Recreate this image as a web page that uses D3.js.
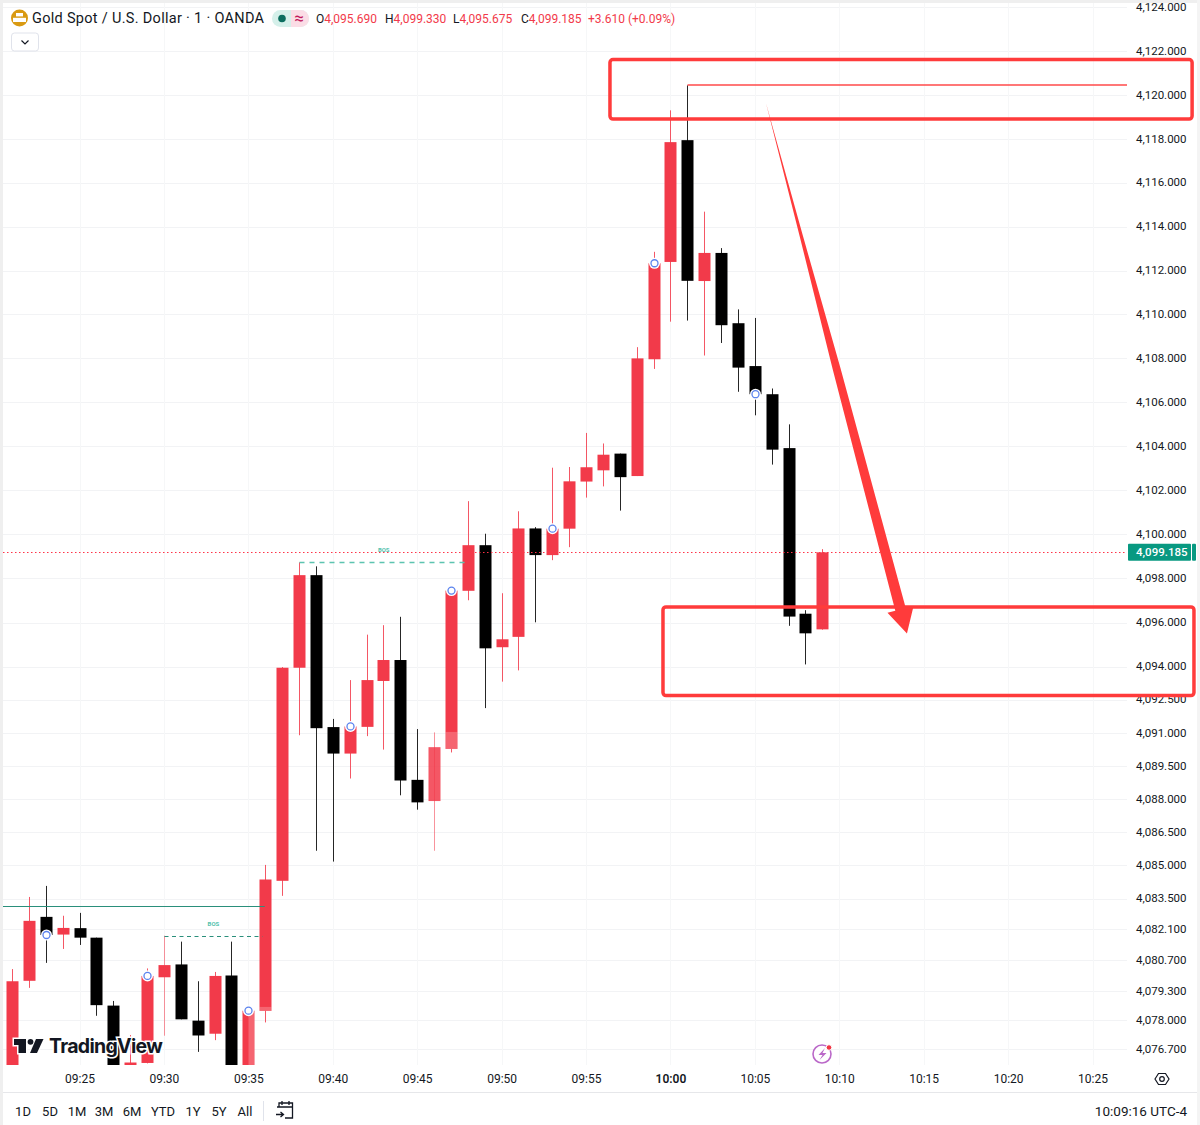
<!DOCTYPE html>
<html>
<head>
<meta charset="utf-8">
<script src="https://cdn.jsdelivr.net/npm/d3@7"></script>
<style>
  html, body { margin: 0; padding: 0; background: #fff; }
  svg { display: block; }
  text { font-family: Roboto, sans-serif; }
</style>
</head>
<body>
<svg id="chart" width="1200" height="1125"></svg>
<script>
const width = 1200
const height = 1125
const chartLeft = 3
const chartTop = 3
const chartRight = 1127
const chartBottom = 1065
const red = "#f23a4a"
const black = "#000000"
const teal = "#089981"
const markup = "#ff3b3b"
const ink = "#131722"

const times = ["09:21", "09:22", "09:23", "09:24", "09:25", "09:26", "09:27", "09:28", "09:29", "09:30",
    "09:31", "09:32", "09:33", "09:34", "09:35", "09:36", "09:37", "09:38", "09:39", "09:40",
    "09:41", "09:42", "09:43", "09:44", "09:45", "09:46", "09:47", "09:48", "09:49", "09:50",
    "09:51", "09:52", "09:53", "09:54", "09:55", "09:56", "09:57", "09:58", "09:59", "10:00",
    "10:01", "10:02", "10:03", "10:04", "10:05", "10:06", "10:07", "10:08", "10:09"]
const opens = [4074.83, 4079.78, 4082.67, 4081.87, 4082.16, 4081.73, 4078.66, 4075.74, 4076.07, 4079.94,
    4080.52, 4077.98, 4077.39, 4080.02, 4075.05, 4078.42, 4084.30, 4093.95, 4098.15, 4091.26,
    4090.06, 4091.27, 4093.35, 4094.30, 4088.87, 4087.91, 4090.27, 4097.44, 4099.51, 4094.88,
    4095.35, 4100.27, 4099.06, 4100.26, 4102.40, 4102.91, 4103.67, 4102.65, 4107.96, 4112.39,
    4117.94, 4111.52, 4112.80, 4109.60, 4107.65, 4106.37, 4103.92, 4096.40, 4095.69]
const highs = [4080.31, 4083.57, 4084.07, 4082.72, 4082.85, 4081.73, 4078.87, 4077.33, 4080.34, 4081.82,
    4081.55, 4079.76, 4080.18, 4081.55, 4078.60, 4085.02, 4093.98, 4098.73, 4098.55, 4091.63,
    4093.39, 4095.45, 4095.88, 4096.26, 4091.17, 4091.02, 4097.59, 4101.51, 4100.03, 4097.33,
    4101.05, 4100.33, 4103.03, 4103.06, 4104.61, 4104.13, 4103.67, 4108.51, 4112.85, 4119.30,
    4120.44, 4114.68, 4113.02, 4110.23, 4109.84, 4106.63, 4105.00, 4096.56, 4099.33]
const lows = [4074.60, 4079.46, 4080.59, 4081.22, 4081.40, 4078.20, 4075.28, 4075.51, 4076.05, 4077.30,
    4078.04, 4076.57, 4077.10, 4074.83, 4074.80, 4077.90, 4083.62, 4090.89, 4085.66, 4085.17,
    4088.93, 4090.85, 4090.24, 4088.17, 4087.52, 4085.66, 4090.11, 4097.01, 4092.12, 4093.32,
    4093.83, 4096.01, 4098.83, 4099.42, 4101.67, 4102.18, 4101.08, 4102.65, 4107.52, 4109.67,
    4109.72, 4108.13, 4108.70, 4106.48, 4105.41, 4103.17, 4095.85, 4094.10, 4095.675]
const closes = [4079.76, 4082.49, 4081.85, 4082.17, 4081.73, 4078.68, 4075.51, 4076.09, 4080.00, 4080.49,
    4078.04, 4077.31, 4080.00, 4075.05, 4078.43, 4084.36, 4093.95, 4098.15, 4091.21, 4090.06,
    4091.29, 4093.39, 4094.30, 4088.84, 4087.85, 4090.35, 4097.45, 4099.51, 4094.83, 4095.24,
    4100.27, 4099.06, 4100.26, 4102.41, 4103.05, 4103.62, 4102.60, 4108.00, 4112.33, 4117.85,
    4111.53, 4112.80, 4109.51, 4107.58, 4106.37, 4103.85, 4096.27, 4095.51, 4099.185]

const markerTimes = ["09:23", "09:29", "09:35", "09:41", "09:47", "09:53", "09:59", "10:05"]
const fadeTimes = ["09:36", "09:47"]
const fadeTops = [4078.60, 4091.04]

const priceTicks = [4124, 4122, 4120, 4118, 4116, 4114, 4112, 4110, 4108, 4106, 4104, 4102, 4100, 4098, 4096, 4094,
    4092.5, 4091, 4089.5, 4088, 4086.5, 4085, 4083.5, 4082.1, 4080.7, 4079.3, 4078, 4076.7]
const timeTicks = ["09:25", "09:30", "09:35", "09:40", "09:45", "09:50", "09:55", "10:00", "10:05", "10:10", "10:15", "10:20", "10:25"]
const rangeLabels = ["1D", "5D", "1M", "3M", "6M", "YTD", "1Y", "5Y", "All"]
const rangeCenters = [23, 50, 77, 104, 132, 163, 193, 219, 245]

// drawn on top of the chart, in minutes since midnight and prices
const boxStarts = [596.39, 599.53]
const boxEnds = [630.87, 630.98]
const boxTops = [4121.62, 4096.71]
const boxBottoms = [4118.90, 4092.69]
const arrowTail = [605.63, 4119.63]
const arrowTip = [613.98, 4095.50]
const bosStarts = ["09:30", "09:38"]
const bosEnds = [575.8, 587.98]
const bosPrices = [4081.82, 4098.75]
const bosColors = ["#2a8f7b", "#5cc4b0"]
const bosWidths = [1, 1.6]
const bosDashes = ["4,3.5", "5,5"]
const levelPrice = 4083.18

const toMinutes = (s) => {
    const [h, m] = s.split(":").map(Number)
    return h * 60 + m
}

const candles = times.map((t, i) => ({ t: t, open: opens[i], high: highs[i], low: lows[i], close: closes[i] }))
const byTime = new Map(candles.map(d => [d.t, d]))
const lastClose = closes[closes.length - 1]

const xScale = d3.scaleLinear()
    .domain([toMinutes("09:25"), toMinutes("10:25")])
    .range([80, 1093])

const yScale = d3.scaleLog()
    .domain([4120, 4076.7])
    .range([95, 1049])

const xPos = (t) => Math.floor(xScale(toMinutes(t))) + 0.5

const svg = d3.select("#chart")
    .attr("viewBox", `0 0 ${width} ${height}`)

svg.append("rect").attr("width", width).attr("height", height).attr("fill", "#fff")
svg.append("rect").attr("width", width).attr("height", chartTop).attr("fill", "#efefef")
svg.append("rect").attr("width", chartLeft).attr("height", height).attr("fill", "#efefef")
svg.append("rect").attr("x", 1197).attr("width", 3).attr("height", height).attr("fill", "#f4f4f4")

svg.append("defs").append("clipPath")
    .attr("id", "plot")
    .append("rect")
    .attr("x", chartLeft)
    .attr("y", chartTop)
    .attr("width", chartRight - chartLeft)
    .attr("height", chartBottom - chartTop)

// grid
const grid = svg.append("g").attr("clip-path", "url(#plot)")

grid.selectAll("line.h")
    .data(priceTicks)
    .enter()
    .append("line")
    .attr("class", "h")
    .attr("x1", chartLeft)
    .attr("x2", chartRight)
    .attr("y1", d => Math.round(yScale(d)) + 0.5)
    .attr("y2", d => Math.round(yScale(d)) + 0.5)
    .attr("stroke", "#f2f3f5")

grid.selectAll("line.v")
    .data(timeTicks)
    .enter()
    .append("line")
    .attr("class", "v")
    .attr("x1", d => xPos(d))
    .attr("x2", d => xPos(d))
    .attr("y1", chartTop)
    .attr("y2", chartBottom)
    .attr("stroke", "#f6f7f8")

// axes
const yAxis = d3.axisRight(yScale)
    .tickValues(priceTicks)
    .tickSize(0)
    .tickPadding(0)
    .tickFormat(d3.format(",.3f"))

svg.append("g")
    .attr("id", "y-axis")
    .attr("transform", "translate(1136, -0.5)")
    .call(yAxis)
    .call(g => g.select(".domain").remove())
    .selectAll("text")
    .attr("fill", ink)
    .style("font-size", "11.5px")
    .style("font-family", "Roboto, sans-serif")

const xAxis = d3.axisBottom(xScale)
    .tickValues(timeTicks.map(toMinutes))
    .tickSize(0)
    .tickPadding(0)
    .tickFormat(d => timeTicks.find(t => toMinutes(t) === d))

svg.append("g")
    .attr("id", "x-axis")
    .attr("transform", "translate(-0.5, 1074)")
    .call(xAxis)
    .call(g => g.select(".domain").remove())
    .selectAll("text")
    .attr("fill", ink)
    .style("font-size", "12px")
    .style("font-family", "Roboto, sans-serif")
    .style("font-weight", d => d === toMinutes("10:00") ? "600" : "400")

svg.append("line")
    .attr("x1", chartLeft).attr("x2", 1197)
    .attr("y1", 1092.5).attr("y2", 1092.5)
    .attr("stroke", "#e6e7ea")

// candles
const plot = svg.append("g").attr("clip-path", "url(#plot)")

plot.selectAll("line.wick")
    .data(candles)
    .enter()
    .append("line")
    .attr("class", "wick")
    .attr("x1", d => xPos(d.t))
    .attr("x2", d => xPos(d.t))
    .attr("y1", d => yScale(d.high))
    .attr("y2", d => yScale(d.low))
    .attr("stroke", d => d.close >= d.open ? red : black)
    .attr("stroke-opacity", d => d.t === "09:46" || d.t === "09:30" ? 0.55 : 0.85)

plot.selectAll("rect.body")
    .data(candles)
    .enter()
    .append("rect")
    .attr("class", "body")
    .attr("x", d => xPos(d.t) - 6)
    .attr("width", 12)
    .attr("y", d => yScale(Math.max(d.open, d.close)))
    .attr("height", d => Math.abs(yScale(d.open) - yScale(d.close)))
    .attr("fill", d => d.close >= d.open ? red : black)
    .attr("fill-opacity", d => d.t === "09:46" ? 0.85 : 1)

// paler patches on a few bodies
plot.selectAll("rect.fade")
    .data(fadeTimes)
    .enter()
    .append("rect")
    .attr("class", "fade")
    .attr("x", d => xPos(d) - 6)
    .attr("width", 12)
    .attr("y", (d, i) => yScale(fadeTops[i]))
    .attr("height", (d, i) => yScale(byTime.get(d).open) - yScale(fadeTops[i]))
    .attr("fill", "#fff")
    .attr("fill-opacity", 0.22)

plot.append("rect")
    .attr("x", xPos("09:35"))
    .attr("width", 6)
    .attr("y", yScale(byTime.get("09:35").close))
    .attr("height", chartBottom - yScale(byTime.get("09:35").close))
    .attr("fill", "#fff")
    .attr("fill-opacity", 0.22)

// structure lines
plot.append("line")
    .attr("x1", chartLeft)
    .attr("x2", xScale(toMinutes("09:36")) - 1)
    .attr("y1", Math.round(yScale(levelPrice)) + 0.5)
    .attr("y2", Math.round(yScale(levelPrice)) + 0.5)
    .attr("stroke", "#2a8f7b")

plot.selectAll("line.bos")
    .data(bosPrices)
    .enter()
    .append("line")
    .attr("class", "bos")
    .attr("x1", (d, i) => xPos(bosStarts[i]))
    .attr("x2", (d, i) => xScale(bosEnds[i]))
    .attr("y1", d => Math.round(yScale(d)) + 0.5)
    .attr("y2", d => Math.round(yScale(d)) + 0.5)
    .attr("stroke", (d, i) => bosColors[i])
    .attr("stroke-width", (d, i) => bosWidths[i])
    .attr("stroke-dasharray", (d, i) => bosDashes[i])

plot.selectAll("text.bos")
    .data(bosPrices)
    .enter()
    .append("text")
    .attr("class", "bos")
    .attr("x", (d, i) => (xPos(bosStarts[i]) + xScale(bosEnds[i])) / 2)
    .attr("y", d => yScale(d) - 10)
    .attr("text-anchor", "middle")
    .attr("fill", "#56c2ae")
    .style("font-size", "6px")
    .style("font-weight", "700")
    .text("BOS")

// last price
plot.append("line")
    .attr("x1", chartLeft)
    .attr("x2", chartRight)
    .attr("y1", Math.round(yScale(lastClose)) + 0.5)
    .attr("y2", Math.round(yScale(lastClose)) + 0.5)
    .attr("stroke", "#ff3348")
    .attr("stroke-dasharray", "1.5,2.5")

// cycle markers
plot.selectAll("circle.halo")
    .data(markerTimes)
    .enter()
    .append("circle")
    .attr("class", "halo")
    .attr("cx", d => xPos(d))
    .attr("cy", d => yScale(byTime.get(d).close))
    .attr("r", 5.5)
    .attr("fill", "#fff")

plot.selectAll("circle.ring")
    .data(markerTimes)
    .enter()
    .append("circle")
    .attr("class", "ring")
    .attr("cx", d => xPos(d))
    .attr("cy", d => yScale(byTime.get(d).close))
    .attr("r", 3.5)
    .attr("fill", "#fff")
    .attr("stroke", "#5b83ee")
    .attr("stroke-width", 1.3)

// watermark
const logo = svg.append("g").attr("id", "watermark")
const logoPaths = ["M14 1039 H26 V1053 H18.5 V1045 H14 Z", "M36 1039 H43.5 L37 1053 H30 Z"]
logo.selectAll("path.halo")
    .data(logoPaths)
    .enter()
    .append("path")
    .attr("class", "halo")
    .attr("d", d => d)
    .attr("fill", "#fff")
    .attr("stroke", "#fff")
    .attr("stroke-width", 3)
logo.append("circle").attr("cx", 30.5).attr("cy", 1041.8).attr("r", 4.5).attr("fill", "#fff")
logo.selectAll("path.mark")
    .data(logoPaths)
    .enter()
    .append("path")
    .attr("class", "mark")
    .attr("d", d => d)
    .attr("fill", ink)
logo.append("circle").attr("cx", 30.5).attr("cy", 1041.8).attr("r", 2.9).attr("fill", ink)
logo.append("text")
    .attr("x", 49)
    .attr("y", 1053)
    .attr("fill", ink)
    .attr("stroke", "#fff")
    .attr("stroke-width", 3)
    .attr("paint-order", "stroke")
    .style("font-family", "Inter, sans-serif")
    .style("font-size", "19.5px")
    .style("font-weight", "700")
    .style("letter-spacing", "-0.7px")
    .text("TradingView")

// price label
svg.append("rect")
    .attr("x", 1128).attr("y", yScale(lastClose) - 8.5)
    .attr("width", 63).attr("height", 17).attr("rx", 1)
    .attr("fill", teal)
svg.append("rect")
    .attr("x", 1192).attr("y", yScale(lastClose) - 8.5)
    .attr("width", 4).attr("height", 17).attr("rx", 1)
    .attr("fill", teal)
svg.append("text")
    .attr("x", 1136).attr("y", yScale(lastClose) + 4)
    .attr("fill", "#fff")
    .style("font-size", "11.5px")
    .style("font-weight", "500")
    .text(d3.format(",.3f")(lastClose))

// red markup
svg.append("line")
    .attr("x1", xPos("10:01"))
    .attr("x2", chartRight)
    .attr("y1", Math.round(yScale(byTime.get("10:01").high)))
    .attr("y2", Math.round(yScale(byTime.get("10:01").high)))
    .attr("stroke", "#ff4a4a")
    .attr("stroke-width", 1.5)

svg.selectAll("rect.box")
    .data(boxTops)
    .enter()
    .append("rect")
    .attr("class", "box")
    .attr("x", (d, i) => xScale(boxStarts[i]))
    .attr("width", (d, i) => xScale(boxEnds[i]) - xScale(boxStarts[i]))
    .attr("y", d => yScale(d))
    .attr("height", (d, i) => yScale(boxBottoms[i]) - yScale(d))
    .attr("rx", 3)
    .attr("fill", "none")
    .attr("stroke", markup)
    .attr("stroke-width", 3.5)

const tail = [xScale(arrowTail[0]), yScale(arrowTail[1])]
const tip = [xScale(arrowTip[0]), yScale(arrowTip[1])]
const arrowLength = Math.hypot(tip[0] - tail[0], tip[1] - tail[1])
const ux = (tip[0] - tail[0]) / arrowLength
const uy = (tip[1] - tail[1]) / arrowLength
const headLength = 25
const headHalf = 13.5
const along = (f, w) => [tail[0] + (tip[0] - tail[0]) * f - uy * w, tail[1] + (tip[1] - tail[1]) * f + ux * w]
const neckAt = 1 - headLength / arrowLength
// the shaft swells quickly near the tail, then slowly
const shaft = [[0.25, 1.6], [0.5, 3.9], [neckAt, 5.4]]

svg.append("polygon")
    .attr("points", [
        tail,
        ...shaft.map(s => along(s[0], -s[1])),
        along(neckAt, -headHalf),
        tip,
        along(neckAt, headHalf),
        ...shaft.slice().reverse().map(s => along(s[0], s[1]))
    ].join(" "))
    .attr("fill", markup)

// legend row
svg.append("circle").attr("cx", 19.5).attr("cy", 18).attr("r", 8.5).attr("fill", "#d99a12")
svg.append("rect").attr("x", 16).attr("y", 13).attr("width", 7).attr("height", 3.4).attr("fill", "#fff")
svg.append("rect").attr("x", 13).attr("y", 17.8).attr("width", 13).attr("height", 4.2).attr("fill", "#fff")

svg.append("text")
    .attr("x", 32).attr("y", 23)
    .attr("fill", ink)
    .style("font-size", "14.5px")
    .style("letter-spacing", "0.3px")
    .text("Gold Spot / U.S. Dollar · 1 · OANDA")

svg.append("rect").attr("x", 272).attr("y", 10).attr("width", 37).attr("height", 17).attr("rx", 8.5).attr("fill", "#d5f0ea")
svg.append("path").attr("d", "M291 10 H300.5 A8.5 8.5 0 0 1 300.5 27 H291 Z").attr("fill", "#fbdde6")
svg.append("circle").attr("cx", 282).attr("cy", 18.5).attr("r", 3.8).attr("fill", "#0b6e5f")
svg.append("text")
    .attr("x", 299).attr("y", 24)
    .attr("text-anchor", "middle")
    .attr("fill", "#c2185b")
    .style("font-size", "17px")
    .text("≈")

const ohlcLetters = ["O", "H", "L", "C"]
const ohlcValues = [opens[48], highs[48], lows[48], closes[48]]
const ohlcStarts = [316, 385, 453, 521]
svg.selectAll("text.ohlc")
    .data(ohlcLetters)
    .enter()
    .append("text")
    .attr("class", "ohlc")
    .attr("x", (d, i) => ohlcStarts[i])
    .attr("y", 23)
    .style("font-size", "12px")
    .call(t => t.append("tspan").attr("fill", ink).text(d => d))
    .call(t => t.append("tspan").attr("fill", red).text((d, i) => d3.format(",.3f")(ohlcValues[i])))
svg.append("text")
    .attr("x", 588).attr("y", 23)
    .attr("fill", red)
    .style("font-size", "12px")
    .text("+3.610 (+0.09%)")

svg.append("rect").attr("x", 11.5).attr("y", 33).attr("width", 27).attr("height", 18).attr("rx", 3)
    .attr("fill", "#fff").attr("stroke", "#e0e3eb")
svg.append("path").attr("d", "M21.5 40.5 L25 44 L28.5 40.5").attr("fill", "none").attr("stroke", ink).attr("stroke-width", 1.2)

// bottom toolbar
svg.selectAll("text.range")
    .data(rangeLabels)
    .enter()
    .append("text")
    .attr("class", "range")
    .attr("x", (d, i) => rangeCenters[i])
    .attr("y", 1116)
    .attr("text-anchor", "middle")
    .attr("fill", ink)
    .style("font-size", "13px")
    .text(d => d)

svg.append("line").attr("x1", 263.5).attr("x2", 263.5).attr("y1", 1101).attr("y2", 1121).attr("stroke", "#e0e3eb")
svg.append("path")
    .attr("d", "M279 1107 V1103 H292.5 V1118 H285 M277 1107 H292.5 M282 1101 V1105 M289 1101 V1105 M276 1114.5 H283 M280.5 1112 L283.5 1114.5 L280.5 1117")
    .attr("fill", "none").attr("stroke", ink).attr("stroke-width", 1.3)

svg.append("text")
    .attr("x", 1187).attr("y", 1116)
    .attr("text-anchor", "end")
    .attr("fill", ink)
    .style("font-size", "13.5px")
    .text("10:09:16 UTC-4")

// settings hexagon
svg.append("path").attr("d", "M1155 1079 L1158.5 1073.5 H1165.5 L1169 1079 L1165.5 1084.5 H1158.5 Z")
    .attr("fill", "none").attr("stroke", ink).attr("stroke-width", 1.2)
svg.append("circle").attr("cx", 1162).attr("cy", 1079).attr("r", 2.3).attr("fill", "none").attr("stroke", ink).attr("stroke-width", 1.2)

// lightning badge
svg.append("circle").attr("cx", 822).attr("cy", 1054).attr("r", 9).attr("fill", "#fff").attr("stroke", "#ba68c8").attr("stroke-width", 1.6)
svg.append("path").attr("d", "M825 1048 L818.5 1055 H822.5 L819.5 1060 L826.5 1053 H822.5 Z").attr("fill", "#ba68c8")
svg.append("circle").attr("cx", 829).attr("cy", 1047.5).attr("r", 2.8).attr("fill", "#f23645").attr("stroke", "#fff")
</script>
</body>
</html>
